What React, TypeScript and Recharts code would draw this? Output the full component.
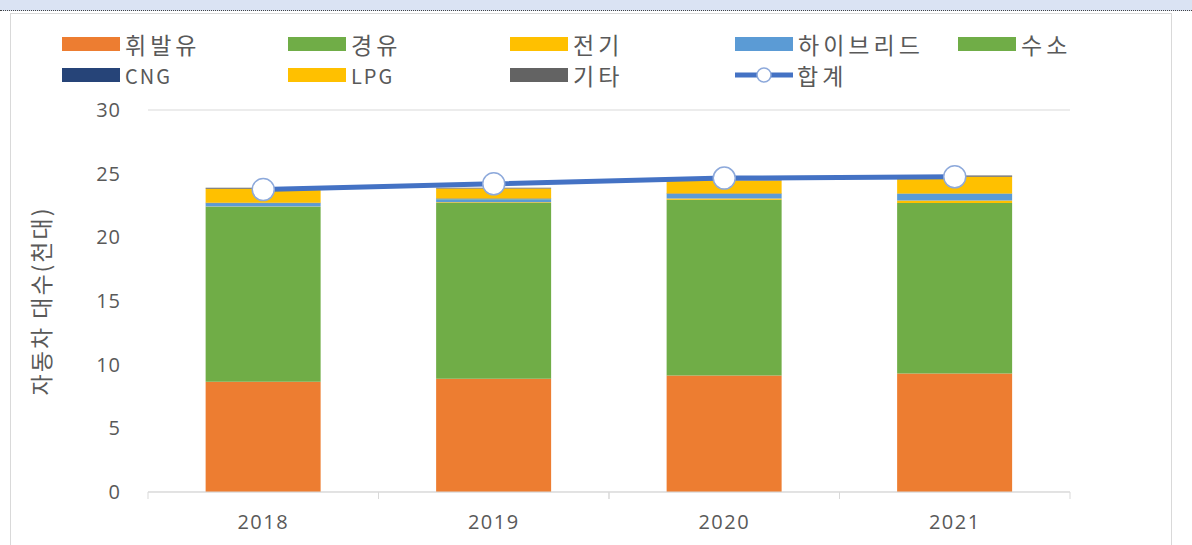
import { Bar, CartesianGrid, ComposedChart, Line, XAxis, YAxis } from "recharts";

const years = ["2018", "2019", "2020", "2021"];
const gasoline = [8.65, 8.9, 9.15, 9.3];
const diesel = [13.75, 13.8, 13.8, 13.4];
const electric = [0.03, 0.05, 0.1, 0.2];
const hybrid = [0.25, 0.25, 0.35, 0.5];
const hydrogen = [0.0, 0.01, 0.01, 0.02];
const cng = [0.03, 0.03, 0.03, 0.03];
const lpg = [1.1, 0.8, 1.0, 1.3];
const etc = [0.08, 0.06, 0.05, 0.1];
const total = [23.75, 24.2, 24.65, 24.75];
const yTicks = [0, 5, 10, 15, 20, 25, 30];

const series = [
  { key: "gasoline", name: "휘발유", color: "#ED7D31", values: gasoline },
  { key: "diesel", name: "경유", color: "#70AD47", values: diesel },
  { key: "electric", name: "전기", color: "#FFC000", values: electric },
  { key: "hybrid", name: "하이브리드", color: "#5B9BD5", values: hybrid },
  { key: "hydrogen", name: "수소", color: "#70AD47", values: hydrogen },
  { key: "cng", name: "CNG", color: "#264478", values: cng },
  { key: "lpg", name: "LPG", color: "#FFC000", values: lpg },
  { key: "etc", name: "기타", color: "#636363", values: etc },
];

const data = years.map((year, i) => {
  const row: Record<string, string | number> = { year, total: total[i] };
  series.forEach((s) => (row[s.key] = s.values[i]));
  return row;
});

const FONT = "'Noto Sans CJK KR', 'Noto Sans', sans-serif";
const NUM_FONT = "'Open Sans', 'Noto Sans', sans-serif";
const TEXT = "#595959";
const GRID = "#d9d9d9";
const LINE = "#4472C4";

const legendCols = [62, 288, 510, 735, 958];

function XTick(props: any) {
  const { x, y, payload } = props;
  const half = 230.5 / 2;
  return (
    <g>
      <line x1={x - half} x2={x - half} y1={y} y2={y + 7} stroke={GRID} />
      <line x1={x + half} x2={x + half} y1={y} y2={y + 7} stroke={GRID} />
      <text x={x} y={y + 37} textAnchor="middle" fill={TEXT} fontSize={20} letterSpacing={1.5} fontFamily={NUM_FONT}>
        {payload.value}
      </text>
    </g>
  );
}

function Legend() {
  const items = [...series.map((s) => ({ name: s.name, color: s.color, line: false })), { name: "합계", color: LINE, line: true }];
  return (
    <>
      {items.map((it, i) => {
        const row = i < 5 ? 0 : 1;
        const col = i < 5 ? i : i - 5;
        const latin = /^[A-Z]+$/.test(it.name);
        return (
          <div
            key={it.name}
            style={{
              position: "absolute",
              left: legendCols[col],
              top: row === 0 ? 29 : 60,
              height: 30,
              display: "flex",
              alignItems: "center",
              fontFamily: FONT,
              color: TEXT,
              fontSize: latin ? 20 : 23,
              letterSpacing: latin ? 2 : 4,
              whiteSpace: "nowrap",
            }}
          >
            {it.line ? (
              <svg width={58} height={20} style={{ marginRight: 4 }}>
                <line x1={0} x2={58} y1={10} y2={10} stroke={it.color} strokeWidth={5} />
                <circle cx={29} cy={10} r={7} fill="#fff" stroke="#8da9db" strokeWidth={1.5} />
              </svg>
            ) : (
              <div style={{ width: 58, height: 14, background: it.color, marginRight: 5 }} />
            )}
            <span>{it.name}</span>
          </div>
        );
      })}
    </>
  );
}

export default function App() {
  return (
    <div style={{ position: "absolute", left: 0, top: 0, width: 1192, height: 545, background: "#fff", overflow: "hidden" }}>
      <style>{`body{margin:0}`}</style>
      <div style={{ position: "absolute", left: 0, top: 0, width: 1192, height: 10, background: "#dae3f3", borderBottom: "1px dotted #444" }} />
      <div style={{ position: "absolute", left: 10, top: 13, width: 1160, height: 540, border: `1px solid ${GRID}` }} />
      <Legend />
      <div style={{ position: "absolute", left: 0, top: 0 }}>
        <ComposedChart width={1192} height={545} data={data} margin={{ top: 110, right: 0, bottom: 23, left: 0 }} barCategoryGap="25%">
          <CartesianGrid vertical={false} stroke={GRID} />
          <XAxis dataKey="year" height={30} tickLine={false} tickSize={0} tickMargin={0} axisLine={{ stroke: GRID }} tick={<XTick />} />
          <YAxis
            yAxisId="left"
            width={148}
            domain={[0, 30]}
            ticks={yTicks}
            axisLine={false}
            tickLine={false}
            tickSize={0}
            tickMargin={27}
            tick={{ fill: TEXT, fontSize: 20, fontFamily: NUM_FONT, letterSpacing: 1 }}
            label={{
              value: "자동차 대수(천대)",
              angle: -90,
              position: "insideLeft",
              offset: 42,
              textAnchor: "middle",
              fill: TEXT,
              fontSize: 23,
              letterSpacing: 2,
              fontFamily: FONT,
            }}
          />
          <YAxis
            yAxisId="right"
            orientation="right"
            width={122}
            domain={[0, 30]}
            ticks={yTicks}
            axisLine={false}
            tickLine={false}
            tickSize={0}
            tickMargin={15}
            tick={{ fill: TEXT, fontSize: 20, fontFamily: NUM_FONT, letterSpacing: 1 }}
          />
          {series.map((s) => (
            <Bar key={s.key} yAxisId="left" dataKey={s.key} name={s.name} stackId="a" fill={s.color} isAnimationActive={false} />
          ))}
          <Line
            yAxisId="left"
            dataKey="total"
            name="합계"
            stroke={LINE}
            strokeWidth={5}
            dot={{ r: 11, fill: "#fff", stroke: "#8da9db", strokeWidth: 1.5 }}
            isAnimationActive={false}
          />
        </ComposedChart>
      </div>
    </div>
  );
}
